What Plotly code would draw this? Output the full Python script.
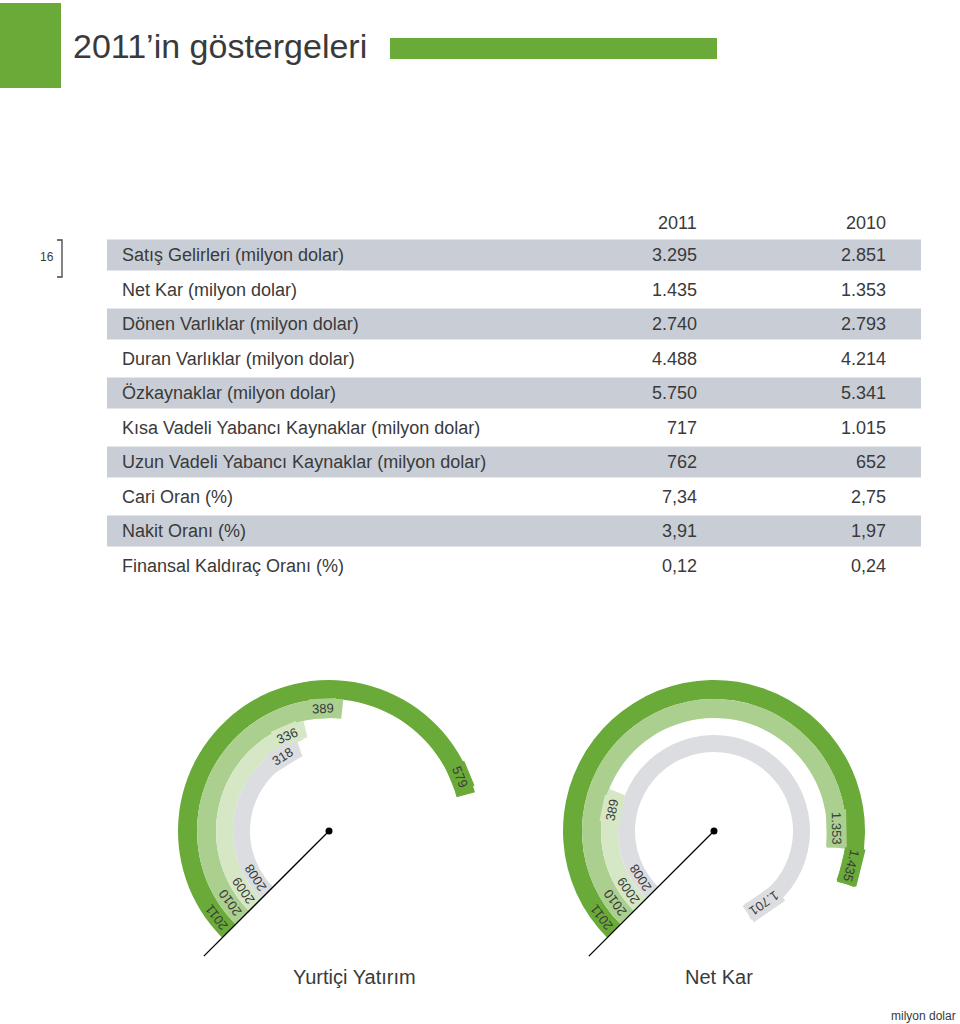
import math
import plotly.graph_objects as go

# ---------------- data ----------------
table_labels = [
    "Satış Gelirleri (milyon dolar)",
    "Net Kar (milyon dolar)",
    "Dönen Varlıklar (milyon dolar)",
    "Duran Varlıklar (milyon dolar)",
    "Özkaynaklar (milyon dolar)",
    "Kısa Vadeli Yabancı Kaynaklar (milyon dolar)",
    "Uzun Vadeli Yabancı Kaynaklar (milyon dolar)",
    "Cari Oran (%)",
    "Nakit Oranı (%)",
    "Finansal Kaldıraç Oranı (%)",
]
table_years = ["2011", "2010"]
values_2011 = ["3.295", "1.435", "2.740", "4.488", "5.750", "717", "762", "7,34", "3,91", "0,12"]
values_2010 = ["2.851", "1.353", "2.793", "4.214", "5.341", "1.015", "652", "2,75", "1,97", "0,24"]

gauge_years = ["2011", "2010", "2009", "2008"]
yurtici_values = [579, 389, 336, 318]
netkar_values = [1435, 1353, 389, 1701]
gauge_titles = ["Yurtiçi Yatırım", "Net Kar"]

# ---------------- styles ----------------
W, H = 960, 1024
GREEN = "#6aaa38"
ring_colors = [GREEN, "#abcf8f", "#d6e7c6", "#dcdde1"]
ring_base = [132, 113, 96, 79]
ring_thick = [19, 19, 17, 17]
START = 225.0
deg_per_unit = [0.363, 0.172]
centers = [(329, 831), (714, 831)]
RMAX = 180
TXT = "#3a3a3a"
FONT = "Liberation Sans"
BAND = "#c9ced6"
TFS = 18


def px(x):
    return x / W


def py(y):
    return 1 - y / H


def fmt(v):
    return f"{v:,}".replace(",", ".")


fig = go.Figure()
shapes = []
annotations = []

# header
shapes.append(dict(type="rect", xref="paper", yref="paper", x0=px(0), x1=px(61), y0=py(88), y1=py(3),
                   fillcolor=GREEN, line_width=0))
shapes.append(dict(type="rect", xref="paper", yref="paper", x0=px(390), x1=px(717), y0=py(59), y1=py(38),
                   fillcolor=GREEN, line_width=0))
annotations.append(dict(text="2011’in göstergeleri", x=px(71), y=py(46), xref="paper", yref="paper",
                        xanchor="left", yanchor="middle", showarrow=False,
                        font=dict(family=FONT, size=34, color=TXT)))

# page number + bracket
annotations.append(dict(text="16", x=px(56), y=py(257), xref="paper", yref="paper", xanchor="right",
                        yanchor="middle", showarrow=False, font=dict(family=FONT, size=12, color=TXT)))
shapes.append(dict(type="path", xref="paper", yref="paper",
                   path=f"M {px(57)} {py(240)} L {px(62)} {py(240)} L {px(62)} {py(277)} L {px(57)} {py(277)}",
                   line=dict(color="#444", width=1.3)))

# table
row0, row_h = 255, 34.5
col_x = [699, 888]
for j, yr in enumerate(table_years):
    annotations.append(dict(text=yr, x=px(col_x[j]), y=py(223), xref="paper", yref="paper",
                            xanchor="right", yanchor="middle", showarrow=False,
                            font=dict(family=FONT, size=TFS, color=TXT)))
for i, lab in enumerate(table_labels):
    yc = row0 + row_h * i
    if i % 2 == 0:
        shapes.append(dict(type="rect", xref="paper", yref="paper", x0=px(107), x1=px(921),
                           y0=py(yc + 15.5), y1=py(yc - 15.5), fillcolor=BAND, line_width=0, layer="below"))
    annotations.append(dict(text=lab, x=px(120), y=py(yc), xref="paper", yref="paper", xanchor="left",
                            yanchor="middle", showarrow=False, font=dict(family=FONT, size=TFS, color=TXT)))
    for j, vals in enumerate([values_2011, values_2010]):
        annotations.append(dict(text=vals[i], x=px(col_x[j]), y=py(yc), xref="paper", yref="paper",
                                xanchor="right", yanchor="middle", showarrow=False,
                                font=dict(family=FONT, size=TFS, color=TXT)))

# gauges
for g, vals in enumerate([yurtici_values, netkar_values]):
    cx, cy = centers[g]
    sub = "polar" if g == 0 else "polar2"
    k = deg_per_unit[g]
    for i, v in enumerate(vals):
        sweep = v * k
        fig.add_trace(go.Barpolar(
            r=[ring_thick[i]], base=[ring_base[i]], theta=[START - sweep / 2], width=[sweep],
            marker=dict(color=ring_colors[i], line=dict(width=0)), subplot=sub, showlegend=False,
            hoverinfo="skip"))
        rm = ring_base[i] + ring_thick[i] / 2
        # year label near start
        phi = START - math.degrees(19 / rm)
        annotations.append(dict(text=gauge_years[i], x=px(cx + rm * math.cos(math.radians(phi))),
                                y=py(cy - rm * math.sin(math.radians(phi))), xref="paper", yref="paper",
                                xanchor="center", yanchor="middle", showarrow=False, textangle=90 - phi,
                                font=dict(family=FONT, size=13, color=TXT)))
        # value label near end
        end = START - sweep
        phi2 = end + math.degrees(19 / rm)
        annotations.append(dict(text=fmt(v), x=px(cx + rm * math.cos(math.radians(phi2))),
                                y=py(cy - rm * math.sin(math.radians(phi2))), xref="paper", yref="paper",
                                xanchor="center", yanchor="middle", showarrow=False, textangle=90 - phi2,
                                bgcolor=ring_colors[i], borderpad=2,
                                font=dict(family=FONT, size=13, color=TXT)))
    # pointer line
    fig.add_trace(go.Scatterpolar(r=[0, 177], theta=[START, START], mode="lines",
                                  line=dict(color="black", width=1.3), subplot=sub, showlegend=False,
                                  hoverinfo="skip"))
    fig.add_trace(go.Scatterpolar(r=[0], theta=[0], mode="markers", marker=dict(color="black", size=7),
                                  subplot=sub, showlegend=False, hoverinfo="skip"))
    annotations.append(dict(text=gauge_titles[g], x=px([354, 719][g]), y=py(977), xref="paper", yref="paper",
                            xanchor="center", yanchor="middle", showarrow=False,
                            font=dict(family=FONT, size=20, color=TXT)))

annotations.append(dict(text="milyon dolar", x=px(958), y=py(1016), xref="paper", yref="paper",
                        xanchor="right", yanchor="middle", showarrow=False,
                        font=dict(family=FONT, size=12, color=TXT)))

polar_common = dict(
    bgcolor="rgba(0,0,0,0)",
    radialaxis=dict(range=[0, RMAX], visible=False, showgrid=False),
    angularaxis=dict(visible=False, rotation=0, direction="counterclockwise", showgrid=False),
    barmode="overlay",
)
fig.update_layout(
    width=W, height=H, margin=dict(l=0, r=0, t=0, b=0),
    paper_bgcolor="white", plot_bgcolor="white",
    polar=dict(domain=dict(x=[px(centers[0][0] - RMAX), px(centers[0][0] + RMAX)],
                           y=[py(centers[0][1] + RMAX), py(centers[0][1] - RMAX)]), **polar_common),
    polar2=dict(domain=dict(x=[px(centers[1][0] - RMAX), px(centers[1][0] + RMAX)],
                            y=[py(centers[1][1] + RMAX), py(centers[1][1] - RMAX)]), **polar_common),
    shapes=shapes, annotations=annotations,
)
fig.write_html("out.html", config={"displayModeBar": False},
               post_script="document.body.style.margin='0';document.body.style.overflow='hidden';")
